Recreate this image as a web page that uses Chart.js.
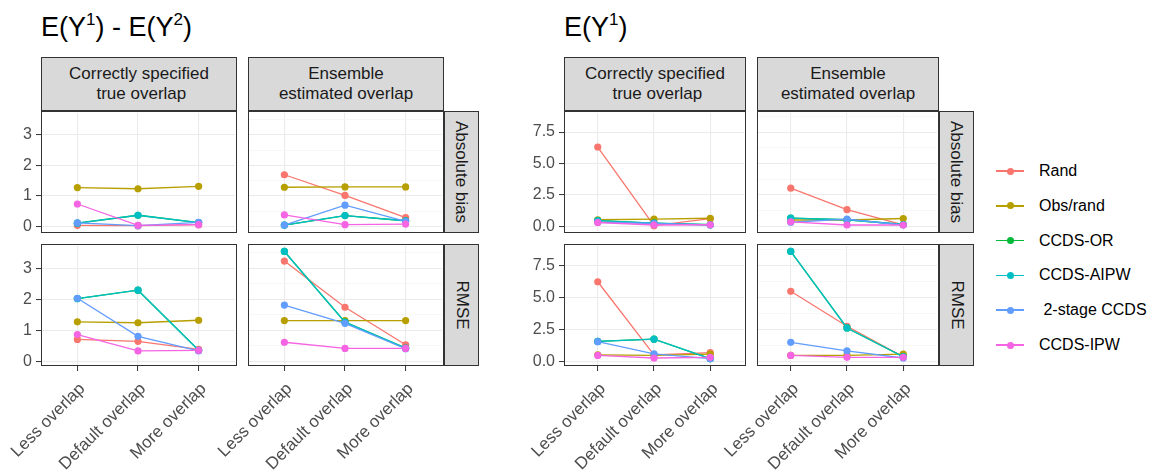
<!DOCTYPE html>
<html>
<head>
<meta charset="utf-8">
<script src="https://cdn.jsdelivr.net/npm/chart.js@4.4.0/dist/chart.umd.min.js"></script>
<style>
  body { margin: 0; background: #fff; font-family: 'Liberation Sans', Arial, sans-serif; }
  #page { position: relative; width: 1153px; height: 472px; overflow: hidden; }
  .abs { position: absolute; }
  .title { font-size: 27px; color: #000; white-space: nowrap; line-height: 30px; }
  .title .sup { font-size: 17px; position: relative; top: -11px; }
  .strip { background: #D9D9D9; border: 1px solid #333; box-sizing: border-box; display: flex;
           align-items: center; justify-content: center; text-align: center; font-size: 17px;
           color: #1A1A1A; line-height: 20px; white-space: pre; }
  .vtext { transform: rotate(90deg); white-space: nowrap; }
  .frame { border: 1px solid #333; box-sizing: border-box; pointer-events: none; }
  .lgline { height: 1.5px; width: 28px; }
  .lgdot { width: 7px; height: 7px; border-radius: 50%; }
  .lgtext { font-size: 16px; color: #000; white-space: pre; line-height: 20px; }
</style>
</head>
<body>
<div id="page"></div>
<script>
// categories and series
const categories = ['Less overlap', 'Default overlap', 'More overlap'];
const methods = ['Rand', 'Obs/rand', 'CCDS-OR', 'CCDS-AIPW', ' 2-stage CCDS', 'CCDS-IPW'];
const colors = ['#F8766D', '#B79F00', '#00BA38', '#00BFC4', '#619CFF', '#F564E3'];

const colStrips = ['Correctly specified\n true overlap', 'Ensemble\nestimated overlap'];
const rowStrips = ['Absolute bias', 'RMSE'];

// E(Y1) - E(Y2), one row per method (same order as methods)
const diffBiasTrue = [
  [0.03, 0.02, 0.05],
  [1.27, 1.23, 1.31],
  [0.10, 0.36, 0.12],
  [0.10, 0.36, 0.12],
  [0.11, 0.02, 0.13],
  [0.73, 0.03, 0.05]
];
const diffBiasEns = [
  [1.69, 1.01, 0.28],
  [1.28, 1.29, 1.29],
  [0.04, 0.35, 0.18],
  [0.04, 0.35, 0.18],
  [0.04, 0.69, 0.16],
  [0.37, 0.05, 0.07]
];
const diffRmseTrue = [
  [0.70, 0.64, 0.38],
  [1.27, 1.24, 1.32],
  [2.02, 2.29, 0.35],
  [2.02, 2.29, 0.35],
  [2.03, 0.80, 0.33],
  [0.86, 0.33, 0.35]
];
const diffRmseEns = [
  [3.23, 1.74, 0.53],
  [1.31, 1.31, 1.31],
  [3.54, 1.26, 0.42],
  [3.54, 1.26, 0.42],
  [1.81, 1.22, 0.40],
  [0.61, 0.41, 0.41]
];

// E(Y1)
const ey1BiasTrue = [
  [6.31, 0.05, 0.60],
  [0.52, 0.57, 0.64],
  [0.45, 0.25, 0.12],
  [0.45, 0.25, 0.12],
  [0.32, 0.22, 0.10],
  [0.30, 0.10, 0.12]
];
const ey1BiasEns = [
  [3.03, 1.32, 0.12],
  [0.50, 0.50, 0.62],
  [0.65, 0.52, 0.14],
  [0.65, 0.52, 0.14],
  [0.32, 0.57, 0.10],
  [0.35, 0.10, 0.10]
];
const ey1RmseTrue = [
  [6.22, 0.50, 0.67],
  [0.50, 0.45, 0.55],
  [1.55, 1.72, 0.20],
  [1.55, 1.72, 0.20],
  [1.53, 0.57, 0.20],
  [0.45, 0.25, 0.30]
];
const ey1RmseEns = [
  [5.47, 2.73, 0.35],
  [0.45, 0.45, 0.55],
  [8.59, 2.60, 0.35],
  [8.59, 2.60, 0.35],
  [1.48, 0.80, 0.25],
  [0.45, 0.30, 0.30]
];

const diffTicks = [0, 1, 2, 3];
const diffTickLabels = ['0', '1', '2', '3'];
const ey1Ticks = [0, 2.5, 5, 7.5];
const ey1TickLabels = ['0.0', '2.5', '5.0', '7.5'];

// layout
const FONT = "'Liberation Sans', Arial, sans-serif";
const PAD = 90;          // room left of every plot inside its canvas
const Y_AXIS_W = 41;
const X_AXIS_H = 106;
const rowTop = [111, 244];
const rowH = 122;
const stripTop = 57, stripH = 54;

const groups = [
  { title: 'E(Y<span class="sup">1</span>) - E(Y<span class="sup">2</span>)', titleX: 41,
    cols: [41, 248], w: 196, stripX: 444, stripW: 35,
    panels: [[diffBiasTrue, diffBiasEns], [diffRmseTrue, diffRmseEns]],
    ticks: diffTicks, tickLabels: diffTickLabels },
  { title: 'E(Y<span class="sup">1</span>)', titleX: 564,
    cols: [564, 757], w: 182, stripX: 939, stripW: 35,
    panels: [[ey1BiasTrue, ey1BiasEns], [ey1RmseTrue, ey1RmseEns]],
    ticks: ey1Ticks, tickLabels: ey1TickLabels }
];

const page = document.getElementById('page');

function addDiv(cls, x, y, w, h, html) {
  const d = document.createElement('div');
  d.className = 'abs ' + cls;
  d.style.left = x + 'px';
  d.style.top = y + 'px';
  if (w != null) d.style.width = w + 'px';
  if (h != null) d.style.height = h + 'px';
  if (html != null) d.innerHTML = html;
  page.appendChild(d);
  return d;
}

function makePanel(g, rows, x, y, w, h, leftCol, bottom) {
  // y range like ggplot: data range expanded by 5%
  const all = [];
  g.panels.forEach(r => r.forEach(p => p.forEach(s => all.push(...s))));
  const lo = Math.min(...all), hi = Math.max(...all);
  const ex = (hi - lo) * 0.05;

  // major + minor (midpoint) grid values
  const step = g.ticks[1] - g.ticks[0];
  const gridVals = [];
  g.ticks.forEach(t => { gridVals.push(t); gridVals.push(t + step / 2); });

  const cv = document.createElement('canvas');
  const cw = PAD + w + 2;
  const ch = 2 + h + (bottom ? X_AXIS_H : 2);
  cv.width = cw; cv.height = ch;
  cv.style.position = 'absolute';
  cv.style.left = (x - PAD) + 'px';
  cv.style.top = (y - 2) + 'px';
  cv.style.width = cw + 'px';
  cv.style.height = ch + 'px';
  page.appendChild(cv);

  const datasets = methods.map((m, i) => ({
    label: m,
    data: rows[i].map((v, j) => ({ x: j + 1, y: v })),
    borderColor: colors[i],
    backgroundColor: colors[i],
    borderWidth: 1.3,
    pointRadius: 3.6,
    pointBorderWidth: 0,
    pointBackgroundColor: colors[i],
    order: methods.length - i
  }));

  new Chart(cv.getContext('2d'), {
    type: 'line',
    data: { datasets: datasets },
    options: {
      responsive: false,
      animation: false,
      events: [],
      layout: { padding: { left: PAD - (leftCol ? Y_AXIS_W : 0), top: 2, right: 2, bottom: bottom ? 0 : 2 } },
      plugins: { legend: { display: false }, tooltip: { enabled: false } },
      scales: {
        x: {
          type: 'linear',
          min: 0.4,
          max: categories.length + 0.6,
          afterBuildTicks: s => { s.ticks = categories.map((c, i) => ({ value: i + 1 })); },
          afterFit: s => { s.height = bottom ? X_AXIS_H : 0; s.paddingLeft = 0; s.paddingRight = 0; },
          border: { display: false },
          grid: { color: '#EBEBEB', lineWidth: 1.1, drawTicks: bottom, tickLength: 5, tickColor: '#333', tickWidth: 1 },
          ticks: {
            display: bottom, autoSkip: false, minRotation: 45, maxRotation: 45, padding: 8, labelOffset: 5,
            color: '#4D4D4D', font: { size: 17, family: FONT },
            callback: (v, i) => categories[i]
          }
        },
        y: {
          min: lo - ex,
          max: hi + ex,
          afterBuildTicks: s => { s.ticks = gridVals.filter(v => v <= hi + ex).map(v => ({ value: v })); },
          afterFit: s => { s.width = leftCol ? Y_AXIS_W : 0; s.paddingTop = 0; s.paddingBottom = 0; },
          border: { display: false },
          grid: {
            color: c => c.index % 2 === 0 ? '#EBEBEB' : '#F4F4F4',
            lineWidth: c => c.index % 2 === 0 ? 1.1 : 0.7,
            drawTicks: leftCol, tickLength: 5,
            tickColor: c => c.index % 2 === 0 ? '#333' : 'rgba(0,0,0,0)',
            tickWidth: 1
          },
          ticks: {
            display: leftCol, padding: 4, color: '#4D4D4D', font: { size: 16, family: FONT },
            callback: (v, i) => i % 2 === 0 ? g.tickLabels[i / 2] : ''
          }
        }
      }
    }
  });

  addDiv('frame', x, y, w, h);
}

groups.forEach(g => {
  addDiv('title', g.titleX, 12, null, null, g.title);
  g.cols.forEach((cx, ci) => {
    addDiv('strip', cx, stripTop, g.w, stripH, colStrips[ci]);
  });
  rowTop.forEach((ry, ri) => {
    const s = addDiv('strip', g.stripX, ry, g.stripW, rowH);
    const t = document.createElement('div');
    t.className = 'vtext';
    t.textContent = rowStrips[ri];
    s.appendChild(t);
    g.cols.forEach((cx, ci) => {
      makePanel(g, g.panels[ri][ci], cx, ry, g.w, rowH, ci === 0, ri === rowTop.length - 1);
    });
  });
});

// shared legend
methods.forEach((m, i) => {
  const cy = 171 + i * 34.8;
  const ln = addDiv('lgline', 996, cy - 0.75, null, null);
  ln.style.background = colors[i];
  const dt = addDiv('lgdot', 1006.5, cy - 3.5, null, null);
  dt.style.background = colors[i];
  addDiv('lgtext', 1039, cy - 10, null, null, m);
});
</script>
</body>
</html>
